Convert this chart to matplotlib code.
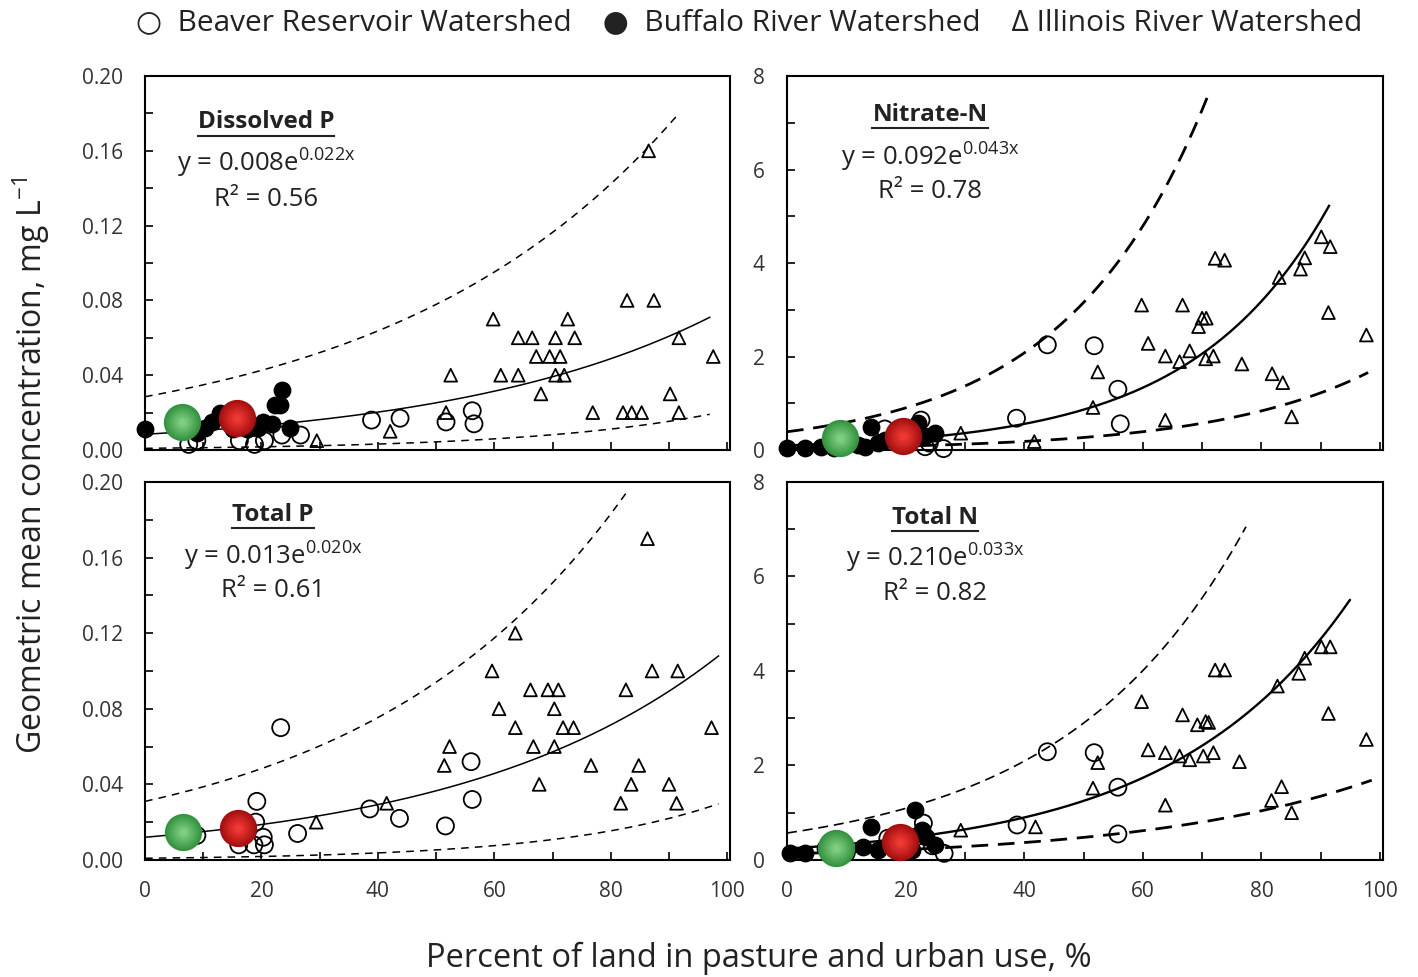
import numpy as np
import matplotlib.pyplot as plt
from matplotlib.ticker import MultipleLocator, FormatStrFormatter

plt.rcParams['font.family'] = ['Open Sans', 'DejaVu Sans']
plt.rcParams['mathtext.default'] = 'regular'

# ---- Dissolved P ----
dp_bea_x = [7.5, 8.9, 16.2, 18.8, 20.5, 23.5, 26.7, 38.9, 43.8, 51.7, 56.2, 56.5]
dp_bea_y = [0.003, 0.005, 0.005, 0.003, 0.005, 0.008, 0.008, 0.016, 0.017, 0.015, 0.021, 0.014]
dp_buf_x = [0, 8.9, 10.3, 11.5, 12.9, 15.1, 17.5, 19.4, 20.3, 21.8, 22.3, 23.2, 23.5, 24.9]
dp_buf_y = [0.011, 0.009, 0.012, 0.015, 0.020, 0.011, 0.011, 0.012, 0.015, 0.014, 0.024, 0.024, 0.032, 0.012]
dp_ill_x = [86.5, 82.8, 87.4, 59.8, 72.6, 64.1, 66.5, 70.5, 73.8, 91.7, 67.2, 69.5, 71.3, 97.6,
            52.5, 61.1, 64.1, 70.5, 72.0, 68.0, 90.2, 51.7, 76.9, 82.1, 83.6, 85.3, 91.7, 42.1, 29.5]
dp_ill_y = [0.16, 0.08, 0.08, 0.07, 0.07, 0.06, 0.06, 0.06, 0.06, 0.06, 0.05, 0.05, 0.05, 0.05,
            0.04, 0.04, 0.04, 0.04, 0.04, 0.03, 0.03, 0.02, 0.02, 0.02, 0.02, 0.02, 0.02, 0.01, 0.005]

# ---- Nitrate-N ----
no3_bea_x = [43.9, 51.8, 55.8, 56.2, 38.7, 22.6, 26.4, 23.3, 16.5, 8.0, 19.0, 24.0]
no3_bea_y = [2.25, 2.23, 1.30, 0.56, 0.68, 0.64, 0.03, 0.07, 0.45, 0.10, 0.20, 0.15]
no3_buf_x = [0, 3, 5.8, 8, 12, 13.1, 14.2, 15.4, 16.5, 18, 19.5, 21.6, 22.1, 23.3, 24.9]
no3_buf_y = [0.04, 0.05, 0.07, 0.05, 0.10, 0.07, 0.50, 0.15, 0.21, 0.30, 0.40, 0.25, 0.57, 0.29, 0.36]
no3_ill_x = [90.1, 91.6, 72.2, 73.8, 87.3, 86.6, 83.0, 59.8, 66.7, 70.0, 70.7, 69.4, 91.3, 97.7,
             60.9, 67.9, 63.8, 66.2, 70.6, 71.9, 76.7, 81.8, 83.6, 52.4, 51.6, 63.8, 85.1, 29.3, 41.7]
no3_ill_y = [4.56, 4.35, 4.10, 4.06, 4.11, 3.87, 3.69, 3.10, 3.10, 2.82, 2.82, 2.64, 2.94, 2.46,
             2.28, 2.12, 2.01, 1.89, 1.95, 2.01, 1.84, 1.63, 1.44, 1.67, 0.91, 0.64, 0.71, 0.36, 0.18]

# ---- Total P ----
tp_bea_x = [23.3, 56.0, 56.2, 19.2, 38.6, 43.7, 51.6, 26.2, 8.9, 19.0, 20.3, 16.1, 18.7, 20.5]
tp_bea_y = [0.070, 0.052, 0.032, 0.031, 0.027, 0.022, 0.018, 0.014, 0.013, 0.020, 0.012, 0.008, 0.008, 0.008]
tp_buf_x = []
tp_buf_y = []
tp_ill_x = [86.3, 63.6, 59.6, 87.1, 91.5, 66.2, 69.2, 71.0, 82.6, 60.8, 70.3, 63.6, 71.8, 73.6, 97.3,
            52.3, 66.7, 70.3, 51.4, 76.6, 84.8, 67.7, 83.5, 90.0, 81.7, 91.3, 41.5, 29.4]
tp_ill_y = [0.17, 0.12, 0.10, 0.10, 0.10, 0.09, 0.09, 0.09, 0.09, 0.08, 0.08, 0.07, 0.07, 0.07, 0.07,
            0.06, 0.06, 0.06, 0.05, 0.05, 0.05, 0.04, 0.04, 0.04, 0.03, 0.03, 0.03, 0.02]

# ---- Total N ----
tn_bea_x = [43.9, 51.8, 55.8, 55.8, 38.8, 26.5, 23.0, 17.0, 19.0, 22.0, 24.5, 10.0]
tn_bea_y = [2.29, 2.27, 1.54, 0.55, 0.74, 0.14, 0.78, 0.46, 0.30, 0.50, 0.30, 0.15]
tn_buf_x = [0.5, 3, 6.4, 12.8, 14.2, 15.4, 18.8, 21.0, 21.6, 22.7, 23.5, 24.9]
tn_buf_y = [0.14, 0.15, 0.25, 0.28, 0.70, 0.21, 0.18, 0.21, 1.06, 0.63, 0.49, 0.32]
tn_ill_x = [90.1, 91.6, 72.2, 73.8, 87.3, 86.3, 82.7, 59.8, 66.7, 91.3, 70.6, 69.2, 71.1, 97.7,
            60.9, 63.8, 66.2, 67.9, 70.2, 71.9, 76.3, 52.4, 51.6, 83.4, 81.7, 63.8, 85.1, 41.9, 29.3]
tn_ill_y = [4.51, 4.51, 4.02, 4.02, 4.27, 3.95, 3.68, 3.35, 3.07, 3.10, 2.93, 2.86, 2.91, 2.55,
            2.33, 2.27, 2.20, 2.12, 2.20, 2.27, 2.08, 2.06, 1.52, 1.55, 1.26, 1.16, 1.00, 0.70, 0.63]

# green / red reference sites (x, y) per panel
green_pts = [(6.3, 0.015), (8.9, 0.25), (6.6, 0.015), (8.3, 0.25)]
red_pts = [(15.8, 0.017), (19.6, 0.29), (16.0, 0.017), (19.0, 0.39)]

# exponential curves: (a, b, x_end) for fit, upper and lower dashed bounds
fit_par = [(0.0084, 0.022, 97.0), (0.098, 0.0435, 91.4), (0.012, 0.0223, 98.5), (0.24, 0.033, 94.9)]
upper_par = [(0.0285, 0.0201, 91.5), (0.39, 0.0418, 71.3), (0.031, 0.0222, 83.0), (0.57, 0.0325, 77.4)]
lower_par = [(0.0009, 0.0315, 97.0), (0.040, 0.038, 98.0), (0.0009, 0.0355, 98.5), (0.13, 0.026, 98.6)]

titles = ['Dissolved P', 'Nitrate-N', 'Total P', 'Total N']
equations = [r'y = 0.008e$^{0.022x}$', r'y = 0.092e$^{0.043x}$',
             r'y = 0.013e$^{0.020x}$', r'y = 0.210e$^{0.033x}$']
r2_labels = ['R² = 0.56', 'R² = 0.78', 'R² = 0.61', 'R² = 0.82']

bea = [(dp_bea_x, dp_bea_y), (no3_bea_x, no3_bea_y), (tp_bea_x, tp_bea_y), (tn_bea_x, tn_bea_y)]
buf = [(dp_buf_x, dp_buf_y), (no3_buf_x, no3_buf_y), (tp_buf_x, tp_buf_y), (tn_buf_x, tn_buf_y)]
ill = [(dp_ill_x, dp_ill_y), (no3_ill_x, no3_ill_y), (tp_ill_x, tp_ill_y), (tn_ill_x, tn_ill_y)]

fig = plt.figure(figsize=(14.18, 9.77), dpi=100)
pos = [[0.1023, 0.5394, 0.4126, 0.3828], [0.555, 0.5394, 0.4203, 0.3828],
       [0.1023, 0.1198, 0.4126, 0.3869], [0.555, 0.1198, 0.4203, 0.3869]]
text_pos = [(0.207, 0.877, 0.767, 0.671), (0.24, 0.896, 0.783, 0.69),
            (0.219, 0.913, 0.804, 0.712), (0.248, 0.905, 0.799, 0.704)]
line_w = [(1.1, 1.1, 1.1), (1.7, 2.0, 2.0), (1.1, 1.1, 1.1), (1.7, 1.2, 2.0)]
dash_pat = [(5, 4), (6, 3.5), (5, 4), (6, 3.5)]


def ball(ax, x, y, dark, light):
    # fake 3-D shading with stacked discs
    n = 8
    for k in range(n):
        t = k / (n - 1)
        c = tuple((1 - t) * np.array(dark) + t * np.array(light))
        ax.scatter([x], [y], s=720 * (1 - 0.8 * t) ** 2, color=c, zorder=6 + k * 0.01,
                   linewidths=0, clip_on=False)


axes = []
for i in range(4):
    ax = fig.add_axes(pos[i])
    axes.append(ax)
    is_n = i in (1, 3)
    ymax = 8 if is_n else 0.2
    ax.set_xlim(0, 100.5)
    ax.set_ylim(0, ymax)

    xs = np.linspace(0, fit_par[i][2], 200)
    ax.plot(xs, fit_par[i][0] * np.exp(fit_par[i][1] * xs), color='black', lw=line_w[i][0], zorder=3)
    xs = np.linspace(0, upper_par[i][2], 200)
    ax.plot(xs, upper_par[i][0] * np.exp(upper_par[i][1] * xs), color='black', lw=line_w[i][1],
            dashes=dash_pat[i], zorder=3)
    xs = np.linspace(0, lower_par[i][2], 200)
    ax.plot(xs, lower_par[i][0] * np.exp(lower_par[i][1] * xs), color='black', lw=line_w[i][2],
            dashes=dash_pat[i], zorder=3)

    ax.scatter(buf[i][0], buf[i][1], s=140, color='black', zorder=4, clip_on=False)
    ax.scatter(bea[i][0], bea[i][1], s=150, facecolor='none', edgecolor='black', lw=1.3,
               zorder=5, clip_on=False)
    ax.scatter(ill[i][0], ill[i][1], s=85, marker='^', facecolor='none', edgecolor='black',
               lw=1.3, zorder=5, clip_on=False)
    ball(ax, green_pts[i][0], green_pts[i][1], (0.20, 0.58, 0.25), (0.50, 0.80, 0.50))
    ball(ax, red_pts[i][0], red_pts[i][1], (0.65, 0.06, 0.06), (0.93, 0.22, 0.20))

    tx, ty, ey, ry = text_pos[i]
    t = ax.text(tx, ty, titles[i], transform=ax.transAxes, ha='center', va='center',
                fontsize=17.5, fontweight='bold', color='#222222')
    t.set_gid('title%d' % i)
    ax.text(tx, ey, equations[i], transform=ax.transAxes, ha='center', va='center',
            fontsize=18.5, color='#222222')
    ax.text(tx, ry, r2_labels[i], transform=ax.transAxes, ha='center', va='center',
            fontsize=18.5, color='#222222')

    ax.xaxis.set_major_locator(MultipleLocator(20))
    ax.xaxis.set_minor_locator(MultipleLocator(10))
    if is_n:
        ax.yaxis.set_major_locator(MultipleLocator(2))
        ax.yaxis.set_minor_locator(MultipleLocator(1))
        ax.yaxis.set_major_formatter(FormatStrFormatter('%d'))
    else:
        ax.yaxis.set_major_locator(MultipleLocator(0.04))
        ax.yaxis.set_minor_locator(MultipleLocator(0.02))
        ax.yaxis.set_major_formatter(FormatStrFormatter('%.2f'))
    ax.tick_params(which='both', direction='in', length=6, width=1.2, top=False, right=False,
                   labelsize=15, colors='black', labelcolor='#333333')
    ax.tick_params(axis='y', pad=16)
    ax.tick_params(axis='x', pad=15)
    if i < 2:
        ax.tick_params(axis='x', labelbottom=False)
    for sp in ax.spines.values():
        sp.set_linewidth(1.5)

# underline the panel titles
fig.canvas.draw()
for ax in axes:
    for t in ax.texts:
        if t.get_gid() and t.get_gid().startswith('title'):
            bb = t.get_window_extent().transformed(ax.transAxes.inverted())
            yl = bb.y0 - 0.004
            ax.plot([bb.x0, bb.x1], [yl, yl], transform=ax.transAxes, color='#222222', lw=1.5)

fig.text(0.528, 0.977, '○  Beaver Reservoir Watershed    ●  Buffalo River Watershed    Δ Illinois River Watershed',
         ha='center', va='center', fontsize=21.5, color='#222222')
fig.text(0.022, 0.524, 'Geometric mean concentration, mg L$^{-1}$', rotation=90,
         ha='center', va='center', fontsize=23, color='#222222')
fig.text(0.535, 0.019, 'Percent of land in pasture and urban use, %', ha='center', va='center',
         fontsize=23.5, color='#222222')

fig.savefig('out.png', dpi=100)
